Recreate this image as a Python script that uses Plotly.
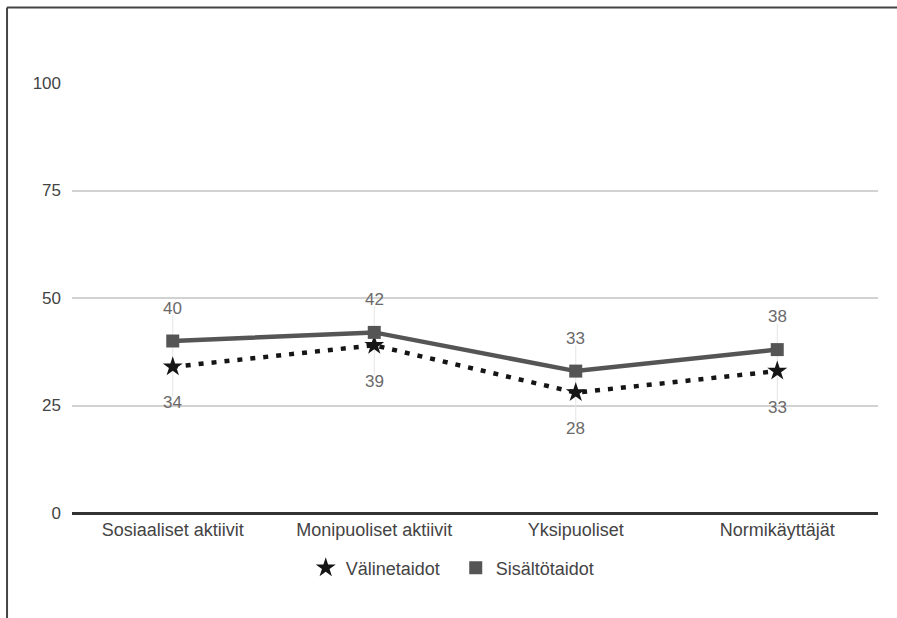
import plotly.graph_objects as go

categories = ["Sosiaaliset aktiivit", "Monipuoliset aktiivit", "Yksipuoliset", "Normikäyttäjät"]
valinetaidot = [34, 39, 28, 33]
sisaltotaidot = [40, 42, 33, 38]
y_ticks = [0, 25, 50, 75, 100]

FONT = "Liberation Sans, Arial, sans-serif"
LABEL_GREY = "#6a6a6a"
STAR_COLOR = "#151515"
SQUARE_COLOR = "#555555"

fig = go.Figure()

# faint vertical guides behind each category's value labels
for i, cat in enumerate(categories):
    lo = min(valinetaidot[i], sisaltotaidot[i])
    hi = max(valinetaidot[i], sisaltotaidot[i])
    fig.add_trace(go.Scatter(
        x=[cat, cat], y=[lo - 7, hi + 6], mode="lines",
        line=dict(color="#e4e4e4", width=1), showlegend=False, hoverinfo="skip",
    ))

fig.add_trace(go.Scatter(
    x=categories, y=valinetaidot, name="Välinetaidot", mode="lines+markers",
    line=dict(color=STAR_COLOR, width=4.5, dash="5px,8px"),
    marker=dict(symbol="star", size=15, color=STAR_COLOR), showlegend=False,
))
fig.add_trace(go.Scatter(
    x=categories, y=sisaltotaidot, name="Sisältötaidot", mode="lines+markers",
    line=dict(color=SQUARE_COLOR, width=4.5),
    marker=dict(symbol="square", size=13, color=SQUARE_COLOR), showlegend=False,
))

# legend entries show only the marker symbol
fig.add_trace(go.Scatter(
    x=[None], y=[None], name="Välinetaidot", mode="markers",
    marker=dict(symbol="star", size=15, color=STAR_COLOR),
))
fig.add_trace(go.Scatter(
    x=[None], y=[None], name="Sisältötaidot", mode="markers",
    marker=dict(symbol="square", size=13, color=SQUARE_COLOR),
))

annotations = []
for cat, v in zip(categories, sisaltotaidot):
    annotations.append(dict(x=cat, y=v, text=str(v), showarrow=False, yshift=33,
                            font=dict(family=FONT, size=17, color=LABEL_GREY)))
for cat, v in zip(categories, valinetaidot):
    annotations.append(dict(x=cat, y=v, text=str(v), showarrow=False, yshift=-36,
                            font=dict(family=FONT, size=17, color=LABEL_GREY)))

# frame lines along the top and left edge of the page
frame = dict(type="line", xref="paper", yref="paper", line=dict(color="#444444", width=2))
shapes = [
    dict(frame, x0=-0.0806, x1=1.03, y0=1.1756, y1=1.1756),
    dict(frame, x0=-0.0806, x1=-0.0806, y0=1.1756, y1=-0.26),
]

fig.update_layout(
    width=897, height=618,
    margin=dict(l=72, r=19, t=83, b=105),
    paper_bgcolor="white", plot_bgcolor="white",
    font=dict(family=FONT, size=17, color="#444444"),
    xaxis=dict(
        type="category", range=[-0.5, 3.5], showgrid=False, zeroline=False,
        showline=False, ticks="", ticklabelstandoff=4,
        tickfont=dict(size=18, color="#444444"),
    ),
    yaxis=dict(
        range=[0, 100], tickvals=y_ticks, showgrid=True, gridcolor="#d2d2d2",
        gridwidth=1.5, zeroline=True, zerolinecolor="#333333", zerolinewidth=2.5,
        showline=False, ticks="", ticklabelstandoff=10,
        tickfont=dict(size=17, color="#444444"),
    ),
    legend=dict(
        orientation="h", x=0.29, xanchor="left", y=-0.085, yanchor="top",
        font=dict(size=18, color="#444444"), itemwidth=30,
        entrywidth=105, entrywidthmode="pixels",
    ),
    annotations=annotations,
    shapes=shapes,
)

fig.write_html("out.html")
